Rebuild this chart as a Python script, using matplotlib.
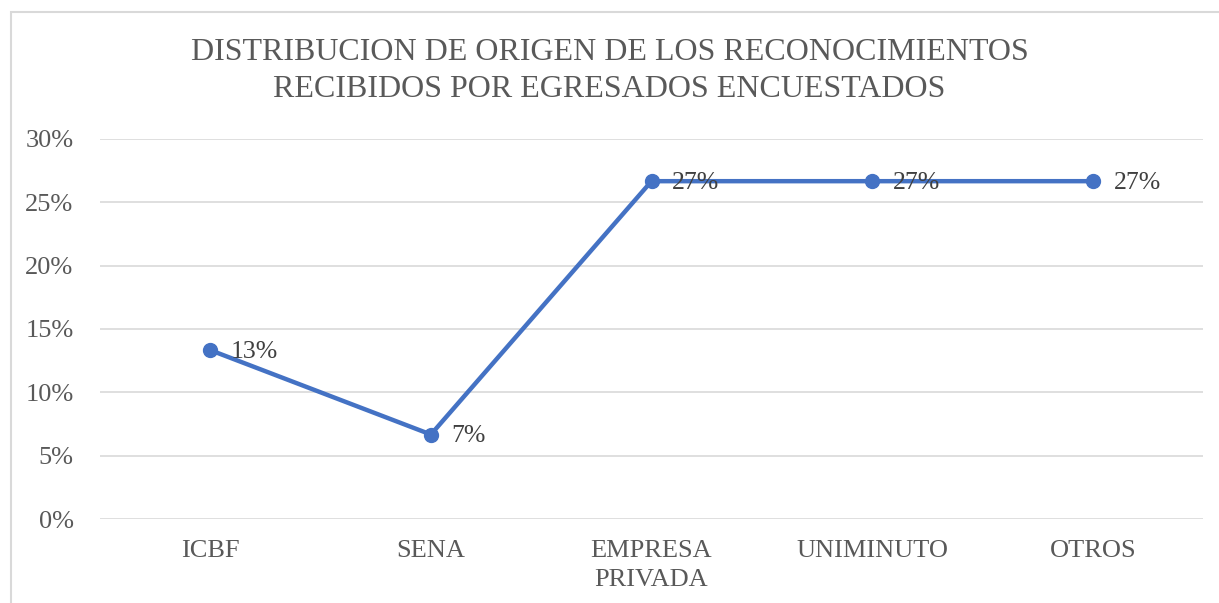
import matplotlib.pyplot as plt
from matplotlib.patches import Rectangle

categories = ["ICBF", "SENA", "EMPRESA\nPRIVADA", "UNIMINUTO", "OTROS"]
values = [0.1333, 0.0667, 0.2667, 0.2667, 0.2667]
labels = ["13%", "7%", "27%", "27%", "27%"]
yticks = [0, 0.05, 0.10, 0.15, 0.20, 0.25, 0.30]
ytick_labels = ["0%", "5%", "10%", "15%", "20%", "25%", "30%"]

plt.rcParams['font.family'] = ['Liberation Serif', 'DejaVu Serif']

W, H = 1219, 603
fig = plt.figure(figsize=(W / 100, H / 100), dpi=100)

# outer chart border (only top and left visible)
fig.patches.append(Rectangle((11 / W, -0.1), 1.2, 1 - 12 / H + 0.1, transform=fig.transFigure,
                             fill=False, edgecolor='#D9D9D9', linewidth=1.5))

ax = fig.add_axes([100 / W, 1 - 519 / H, (1203 - 100) / W, (519 - 139) / H])
x = list(range(len(categories)))
ax.plot(x, values, color='#4472C4', linewidth=3.2, marker='o', markersize=10, zorder=3)
for xi, v, lab in zip(x, values, labels):
    ax.annotate(lab, (xi, v), xytext=(15, -1), textcoords='offset points',
                va='center', ha='left', fontsize=18.5, color='#404040', zorder=4)

ax.set_xlim(-0.5, len(categories) - 0.5)
ax.set_ylim(0, 0.30)
ax.set_yticks(yticks)
ax.set_yticklabels(ytick_labels)
ax.set_xticks(x)
ax.set_xticklabels(categories, linespacing=1.4)
ax.tick_params(axis='both', length=0, labelsize=19, colors='#595959')
ax.tick_params(axis='y', pad=19)
ax.tick_params(axis='x', pad=15)
ax.grid(axis='y', color='#D9D9D9', linewidth=1.2)
ax.set_axisbelow(True)
for s in ax.spines.values():
    s.set_visible(False)

fig.text(0.5, 1 - 71 / H, "DISTRIBUCION DE ORIGEN DE LOS RECONOCIMIENTOS\nRECIBIDOS POR EGRESADOS ENCUESTADOS",
         ha='center', va='center', fontsize=23, color='#595959', linespacing=1.4)

fig.savefig('out.png', dpi=100)
